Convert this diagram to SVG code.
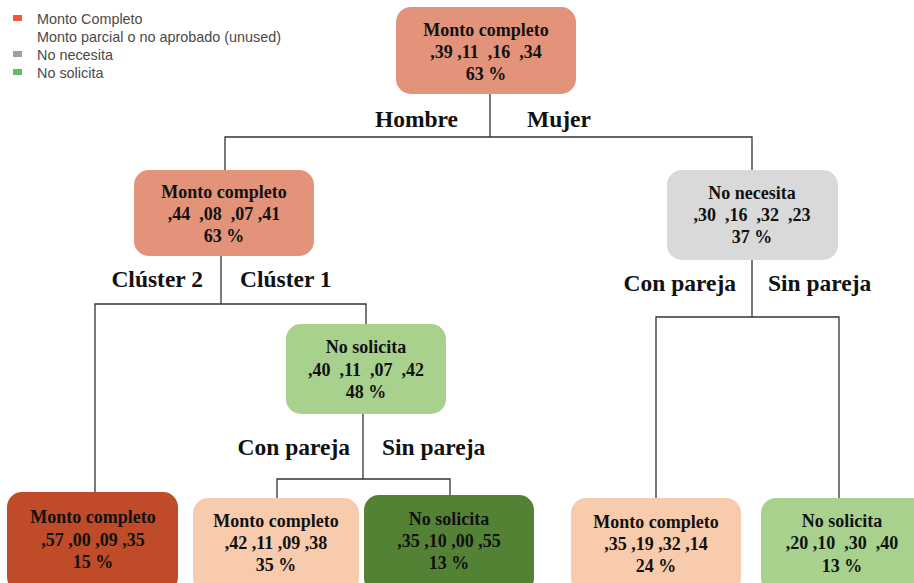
<svg xmlns="http://www.w3.org/2000/svg" width="914" height="583" viewBox="0 0 914 583">
<style>
.lg{font-family:"Liberation Sans",Arial,sans-serif;font-size:14.4px;fill:#4a4a4a}
.nt{font-family:"Liberation Serif","Times New Roman",serif;font-size:18px;font-weight:bold;fill:#111;text-anchor:middle}
.lb{font-family:"Liberation Serif","Times New Roman",serif;font-size:23.5px;font-weight:bold;fill:#111}
.cn{fill:none;stroke:#333;stroke-width:1.3}
.salmon{fill:#e3937a}
.dred{fill:#bf4b28}
.peach{fill:#f8cbad}
.dgreen{fill:#548235}
.lgreen{fill:#a9d18e}
.gray{fill:#d9d9d9}
</style>
<rect width="914" height="583" fill="#ffffff"/>
<g id="legend">
<rect x="13" y="15" width="9" height="6" fill="#f4553b"/>
<rect x="13" y="51" width="9" height="6" fill="#a0a0a0"/>
<rect x="13" y="69" width="9" height="6" fill="#62bb62"/>
<text class="lg" x="37" y="24">Monto Completo</text>
<text class="lg" x="37" y="42">Monto parcial o no aprobado (unused)</text>
<text class="lg" x="37" y="60">No necesita</text>
<text class="lg" x="37" y="78">No solicita</text>
</g>
<g id="connectors">
<polyline class="cn" points="490,94 490,137"/>
<polyline class="cn" points="225,170 225,137 752,137 752,170"/>
<polyline class="cn" points="221,256 221,304"/>
<polyline class="cn" points="95,492 95,304 366,304 366,324"/>
<polyline class="cn" points="752,260 752,317"/>
<polyline class="cn" points="656,499 656,317 839,317 839,498"/>
<polyline class="cn" points="363,414 363,479"/>
<polyline class="cn" points="277,498 277,479 450,479 450,496"/>
</g>
<g id="edge-labels">
<text class="lb" x="458" y="127" text-anchor="end">Hombre</text>
<text class="lb" x="527" y="127">Mujer</text>
<text class="lb" x="203" y="287" text-anchor="end">Clúster 2</text>
<text class="lb" x="240" y="287">Clúster 1</text>
<text class="lb" x="736" y="291" text-anchor="end">Con pareja</text>
<text class="lb" x="768" y="291">Sin pareja</text>
<text class="lb" x="350" y="455" text-anchor="end">Con pareja</text>
<text class="lb" x="382" y="455">Sin pareja</text>
</g>
<g id="root">
<rect class="salmon" x="396" y="7" width="180" height="87" rx="15"/>
<text class="nt" x="486" y="36">Monto completo</text>
<text class="nt" x="486" y="58" xml:space="preserve">,39 ,11  ,16  ,34</text>
<text class="nt" x="486" y="80">63 %</text>
</g>
<g id="hombre">
<rect class="salmon" x="134" y="170" width="180" height="86" rx="15"/>
<text class="nt" x="224" y="198">Monto completo</text>
<text class="nt" x="224" y="220" xml:space="preserve">,44  ,08  ,07 ,41</text>
<text class="nt" x="224" y="242">63 %</text>
</g>
<g id="mujer">
<rect class="gray" x="667" y="170" width="171" height="90" rx="15"/>
<text class="nt" x="752" y="199">No necesita</text>
<text class="nt" x="752" y="221" xml:space="preserve">,30  ,16  ,32  ,23</text>
<text class="nt" x="752" y="243">37 %</text>
</g>
<g id="cluster1">
<rect class="lgreen" x="286" y="324" width="160" height="90" rx="15"/>
<text class="nt" x="366" y="353">No solicita</text>
<text class="nt" x="366" y="376" xml:space="preserve">,40  ,11  ,07  ,42</text>
<text class="nt" x="366" y="398">48 %</text>
</g>
<g id="cluster2">
<rect class="dred" x="7" y="492" width="171" height="100" rx="15"/>
<text class="nt" x="93" y="523">Monto completo</text>
<text class="nt" x="93" y="546">,57 ,00 ,09 ,35</text>
<text class="nt" x="93" y="568">15 %</text>
</g>
<g id="c1-con-pareja">
<rect class="peach" x="193" y="498" width="166" height="95" rx="15"/>
<text class="nt" x="276" y="527">Monto completo</text>
<text class="nt" x="276" y="549">,42 ,11 ,09 ,38</text>
<text class="nt" x="276" y="571">35 %</text>
</g>
<g id="c1-sin-pareja">
<rect class="dgreen" x="364" y="495" width="170" height="98" rx="15"/>
<text class="nt" x="449" y="525">No solicita</text>
<text class="nt" x="449" y="547">,35 ,10 ,00 ,55</text>
<text class="nt" x="449" y="569">13 %</text>
</g>
<g id="m-con-pareja">
<rect class="peach" x="571" y="498" width="170" height="95" rx="15"/>
<text class="nt" x="656" y="528">Monto completo</text>
<text class="nt" x="656" y="550">,35 ,19 ,32 ,14</text>
<text class="nt" x="656" y="572">24 %</text>
</g>
<g id="m-sin-pareja">
<rect class="lgreen" x="761" y="498" width="170" height="95" rx="15"/>
<text class="nt" x="842" y="527">No solicita</text>
<text class="nt" x="842" y="549" xml:space="preserve">,20 ,10  ,30  ,40</text>
<text class="nt" x="842" y="572">13 %</text>
</g>
</svg>
